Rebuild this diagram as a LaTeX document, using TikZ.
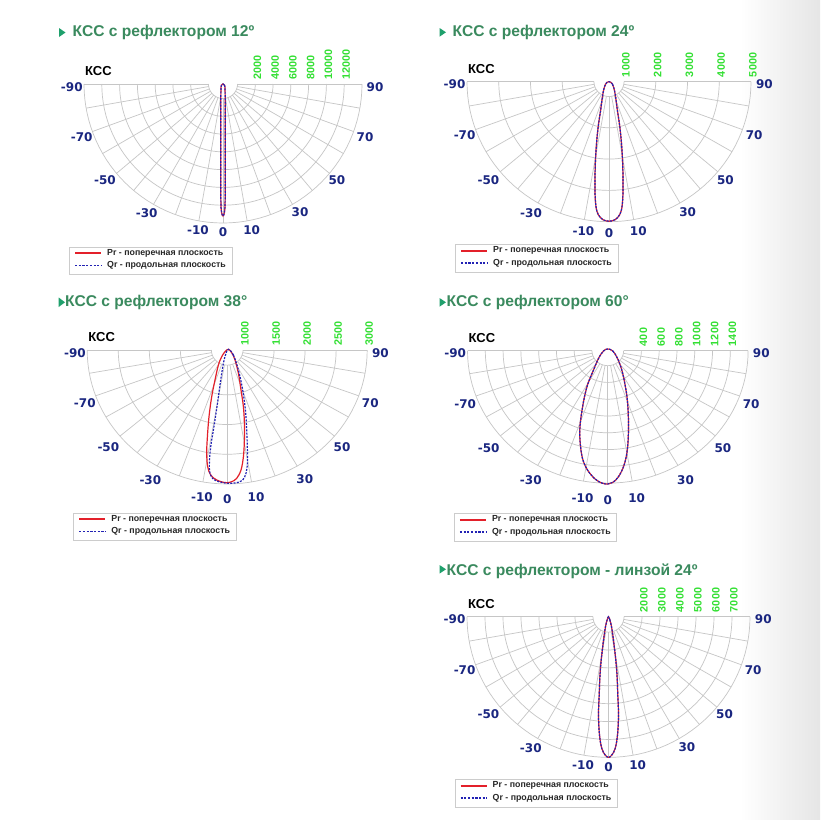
\documentclass[tikz,border=0pt]{standalone}
\usepackage{fontspec}
\setmainfont{Liberation Sans}
\newfontfamily\djv{DejaVu Sans}
\definecolor{titlegreen}{HTML}{3A8A5E}
\definecolor{trigreen}{HTML}{1FA06C}
\definecolor{labblue}{HTML}{1A2680}
\definecolor{labgreen}{HTML}{33E033}
\definecolor{prred}{HTML}{E3202A}
\definecolor{qrblue}{HTML}{2222B4}
\tikzset{
 gridline/.style={draw=gray!45, line width=0.7pt},
 anglab/.style={font=\djv\bfseries\fontsize{12}{12}\selectfont, text=labblue, inner sep=0pt},
 vallab/.style={font=\bfseries\fontsize{10.8}{10.8}\selectfont, text=labgreen, rotate=90, anchor=west, inner sep=0pt},
 titletext/.style={font=\bfseries\fontsize{15.6}{16}\selectfont, text=titlegreen, anchor=base west, inner sep=0pt},
 ksslab/.style={font=\bfseries\fontsize{13}{13}\selectfont, anchor=west, inner sep=0pt},
 legbox/.style={draw=gray!40, line width=0.6pt, fill=white, inner sep=0pt, anchor=north west, minimum width=162.5pt, minimum height=27.5pt},
 legtext/.style={font=\bfseries\fontsize{8.8}{9}\selectfont, text=black!85, anchor=west, inner sep=0pt},
 prline/.style={draw=prred, line width=1.2pt},
 qrline/.style={draw=qrblue, line width=1.2pt, dash pattern=on 2pt off 1.3pt},
 legpr/.style={draw=prred, line width=1.8pt},
 legqr/.style={draw=qrblue, line width=1.8pt, dash pattern=on 2.2pt off 1.5pt},
 lobe/.style={smooth cycle, tension=0.6},
}
% #1 id, #2 cx, #3 cy, #4 R, #5 vertical factor, #6 inner r, #7 gaps, #8 first k, #9 values
\newcommand{\kssgrid}[9]{%
\begin{scope}[shift={(#2,#3)}]
 \pgfmathsetmacro{\dr}{(#4-#6)/#7}
 \foreach \k in {0,...,#7}{%
   \pgfmathsetmacro{\rr}{#6+\k*\dr}
   \draw[gridline] plot[domain=-90:90, samples=61] ({\rr*sin(\x)},{#5*\rr*cos(\x)});
 }
 \foreach \a in {-90,-80,...,90}{%
   \draw[gridline] ({#6*sin(\a)},{#5*#6*cos(\a)}) -- ({#4*sin(\a)},{#5*#4*cos(\a)});
 }
 \foreach \a/\fx/\fy in {-90/-1.088/0.019, -70/-1.017/0.379, -50/-0.849/0.691, -30/-0.549/0.926, -10/-0.180/1.050, 0/0/1.063, 10/0.206/1.050, 30/0.554/0.919, 50/0.820/0.691, 70/1.022/0.379, 90/1.094/0.019}{%
   \node[anglab] (#1a\a) at ({\fx*#4},{\fy*#4}) {\a};
 }
 \foreach \v [count=\i from #8] in {#9}{%
   \node[vallab] (#1v\v) at ({#6+\i*\dr+2},-4.5) {\v};
 }
 \node[ksslab] (#1kss) at ({-#4+1},-12.5) {КСС};
 \node[legbox] (#1leg) at (-154,162.5) {};
 \coordinate (#1pa) at (-148,169);
 \coordinate (#1pb) at (-122,169);
 \draw[legpr] (#1pa) -- (#1pb);
 \node[legtext] (#1pt) at (-116,169) {Pr - поперечная плоскость};
 \coordinate (#1qa) at (-148,181.5);
 \coordinate (#1qb) at (-122,181.5);
 \draw[legqr] (#1qa) -- (#1qb);
 \node[legtext] (#1qt) at (-116,181.5) {Qr - продольная плоскость};
\end{scope}}

\begin{document}
\begin{tikzpicture}[x=1pt, y=-1pt]
\useasboundingbox (0,0) rectangle (820,820);
\fill[white] (0,0) rectangle (820,820);
\shade[left color=white, right color=black!10] (740,0) rectangle (820,820);

% titles
\fill[trigreen] (59,28) -- (65.5,32.5) -- (59,37) -- cycle;
\node[titletext] (t1) at (72.5,36.8) {КСС с рефлектором 12º};
\fill[trigreen] (439.5,28) -- (446,32.3) -- (439.5,36.7) -- cycle;
\node[titletext] (t2) at (452.5,36.7) {КСС с рефлектором 24º};
\fill[trigreen] (58.7,297.5) -- (65,302.3) -- (58.7,307) -- cycle;
\node[titletext] (t3) at (65,306.7) {КСС с рефлектором 38°};
\fill[trigreen] (439.5,298) -- (446,302.3) -- (439.5,306.7) -- cycle;
\node[titletext] (t4) at (446.5,306.7) {КСС с рефлектором 60°};
\fill[trigreen] (439.5,565) -- (446,569.3) -- (439.5,573.6) -- cycle;
\node[titletext] (t5) at (446.5,575) {КСС с рефлектором - линзой 24º};

% grids
\kssgrid{c1}{223}{84}{139}{1}{14.5}{7}{1}{2000,4000,6000,8000,10000,12000}
\kssgrid{c2}{609}{81.7}{142}{0.986}{15}{4}{0}{1000,2000,3000,4000,5000}
\kssgrid{c3}{227.2}{350}{140}{0.957}{15.8}{4}{0}{1000,1500,2000,2500,3000}
\kssgrid{c4}{607.8}{350.7}{140.3}{0.944}{15.8}{7}{1}{400,600,800,1000,1200,1400}
\kssgrid{c5}{608.5}{616.7}{141.5}{0.994}{15.5}{7}{1}{2000,3000,4000,5000,6000,7000}

% lobes
\begin{scope}[shift={(223,84)}]
 \draw[prline] plot[lobe] coordinates {(0,0) (1.5,1.2) (2.1,8) (2.3,40) (2.3,90) (2.1,118) (1.5,128) (0,132) (-1.5,128) (-2.1,118) (-2.3,90) (-2.3,40) (-2.1,8) (-1.5,1.2)};
 \draw[qrline] plot[lobe] coordinates {(0,0) (1.5,1.2) (2.1,8) (2.3,40) (2.3,90) (2.1,118) (1.5,128) (0,132) (-1.5,128) (-2.1,118) (-2.3,90) (-2.3,40) (-2.1,8) (-1.5,1.2)};
\end{scope}
\begin{scope}[shift={(609,81.7)}]
 \draw[prline] plot[lobe] coordinates {(0,0) (3.5,2.5) (6,11.5) (8.3,28) (10.8,45) (12.5,62) (13.5,78) (14,95) (14,111) (13,125) (10.7,133) (6,138) (0,139.5) (-6,138) (-10.7,133) (-13,125) (-14,111) (-14,95) (-13.5,78) (-12.5,62) (-10.8,45) (-8.3,28) (-6,11.5) (-3.5,2.5)};
 \draw[qrline] plot[lobe] coordinates {(0,0) (3.5,2.5) (6,11.5) (8.3,28) (10.8,45) (12.5,62) (13.5,78) (14,95) (14,111) (13,125) (10.7,133) (6,138) (0,139.5) (-6,138) (-10.7,133) (-13,125) (-14,111) (-14,95) (-13.5,78) (-12.5,62) (-10.8,45) (-8.3,28) (-6,11.5) (-3.5,2.5)};
\end{scope}
\begin{scope}[shift={(227.7,350)}]
 \draw[prline] plot[lobe] coordinates {(0.7,-0.7) (4,2.7) (7.3,10) (10.7,23.3) (13.3,40) (15.7,56.7) (16.7,73.3) (16.7,90) (15.7,106.7) (13.3,120) (9,128.3) (4,131.7) (-1,132.7) (-4.3,132.3) (-11,130) (-17,125) (-20,116.7) (-21,103.3) (-20.3,86.7) (-18.7,66.7) (-16,46.7) (-12.7,30) (-9.3,15) (-6,6.7) (-2.7,1.7)};
 \draw[qrline] plot[lobe] coordinates {(0.7,-0.7) (5.7,5) (10.7,20) (15,40) (17.7,60) (19,80) (19.7,100) (19.7,113.3) (18.3,123.3) (15,130) (9,132.7) (2.3,133.3) (-2.7,133) (-7.7,132) (-14.3,129.3) (-17.7,123.3) (-18.3,113.3) (-17,96.7) (-14.3,80) (-11.7,63.3) (-9.3,46.7) (-7,30) (-4.3,13.3) (-1.7,3.3)};
\end{scope}
\begin{scope}[shift={(607.8,350.7)}]
 \draw[prline] plot[lobe] coordinates {(0,-1.7) (5,0.3) (9.7,7.7) (14,19.3) (17.3,34.3) (19.7,51) (20.7,74.3) (19.7,97.7) (16.3,114.3) (10.7,126) (5,131.7) (0,133.3) (-6,132.3) (-12.7,128.3) (-20.3,119.3) (-25.3,107.7) (-27.7,91) (-27.7,74.3) (-24.3,51) (-20.3,34.3) (-15,21) (-9.3,7.7) (-4.3,0.3)};
 \draw[qrline] plot[lobe] coordinates {(0,-1.7) (5,0.3) (9.7,7.7) (14,19.3) (17.3,34.3) (19.7,51) (20.7,74.3) (19.7,97.7) (16.3,114.3) (10.7,126) (5,131.7) (0,133.3) (-6,132.3) (-12.7,128.3) (-20.3,119.3) (-25.3,107.7) (-27.7,91) (-27.7,74.3) (-24.3,51) (-20.3,34.3) (-15,21) (-9.3,7.7) (-4.3,0.3)};
\end{scope}
\begin{scope}[shift={(608.5,616.7)}]
 \draw[prline] plot[lobe] coordinates {(0,0) (1.3,3) (3.3,11.7) (6,31.7) (8.3,55) (9.3,78.3) (10,98.3) (9,118.3) (6.7,131.7) (3.3,138.3) (0,140.7) (-3.3,138.3) (-6.7,131.7) (-9,118.3) (-10,98.3) (-9.3,78.3) (-8.3,55) (-6,31.7) (-3.3,11.7) (-1.3,3)};
 \draw[qrline] plot[lobe] coordinates {(0,0) (1.3,3) (3.3,11.7) (6,31.7) (8.3,55) (9.3,78.3) (10,98.3) (9,118.3) (6.7,131.7) (3.3,138.3) (0,140.7) (-3.3,138.3) (-6.7,131.7) (-9,118.3) (-10,98.3) (-9.3,78.3) (-8.3,55) (-6,31.7) (-3.3,11.7) (-1.3,3)};
\end{scope}
\end{tikzpicture}
\end{document}
